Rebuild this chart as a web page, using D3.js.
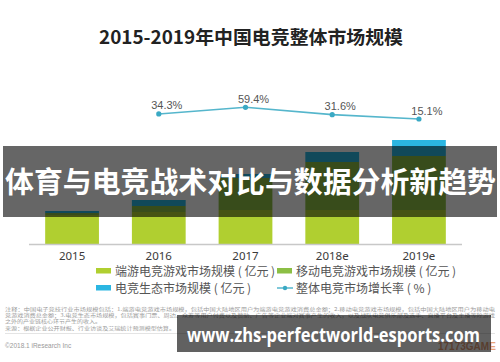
<!DOCTYPE html>
<html>
<head>
<meta charset="utf-8">
<script src="https://cdn.jsdelivr.net/npm/d3@7"></script>
<style>
  html, body { margin: 0; padding: 0; background: #fff; }
  svg { display: block; font-family: "Noto Sans CJK SC", "Noto Sans", sans-serif; }
</style>
</head>
<body>
<div id="chart"></div>
<script>
const years = ["2015", "2016", "2017", "2018e", "2019e"];
const pcGame = [290, 320, 340, 340, 340];     // 端游电竞游戏市场规模（亿元）
const mobileGame = [20, 60, 320, 480, 540];   // 移动电竞游戏市场规模（亿元）
const ecosystem = [20, 60, 40, 100, 160];     // 电竞生态市场规模（亿元）
const growthYears = ["2016", "2017", "2018e", "2019e"];
const growth = [34.3, 59.4, 31.6, 15.1];      // 整体电竞市场增长率（%）

const colors = {
  pc: "#b0cf30",
  mobile: "#8cbf45",
  eco: "#2bb6e2",
  line: "#55b6cc",
};

const width = 500;
const height = 362;

const svg = d3.select("#chart")
  .append("svg")
  .attr("width", width)
  .attr("height", height);

// title
svg.append("text")
  .attr("x", 99)
  .attr("y", 44)
  .attr("textLength", 304)
  .attr("lengthAdjust", "spacingAndGlyphs")
  .attr("font-size", 18.5)
  .attr("font-weight", "bold")
  .attr("fill", "#222")
  .text("2015-2019年中国电竞整体市场规模");

const x = d3.scaleBand()
  .domain(years)
  .range([28.7, 462.3])
  .paddingInner(0.38)
  .paddingOuter(0.19);

const y = d3.scaleLinear().domain([0, 1000]).range([244, 144]);
const yRate = d3.scaleLinear().domain([0, 100]).range([123, 96.6]);

const rows = years.map((yr, i) => ({
  year: yr,
  pc: pcGame[i],
  mobile: mobileGame[i],
  eco: ecosystem[i],
}));

const series = d3.stack().keys(["pc", "mobile", "eco"])(rows);

svg.append("g")
  .selectAll("g")
  .data(series)
  .join("g")
  .attr("fill", (d) => colors[d.key])
  .selectAll("rect")
  .data((d) => d)
  .join("rect")
  .attr("x", (d) => x(d.data.year))
  .attr("width", x.bandwidth())
  .attr("y", (d) => y(d[1]))
  .attr("height", (d) => y(d[0]) - y(d[1]));

// baseline
svg.append("line")
  .attr("x1", 29)
  .attr("x2", 462)
  .attr("y1", y(0) + 0.5)
  .attr("y2", y(0) + 0.5)
  .attr("stroke", "#c8c8c8")
  .attr("stroke-width", 1.5);

// year labels
const xAxis = svg.append("g")
  .attr("transform", `translate(0,${y(0) + 2})`)
  .call(d3.axisBottom(x).tickSize(0).tickPadding(6));
xAxis.select(".domain").remove();
xAxis.selectAll("text")
  .attr("font-size", 11.5)
  .attr("fill", "#3a3a3a")
  .attr("font-family", "'Noto Sans', sans-serif");

// growth line
const cx = (yr) => x(yr) + x.bandwidth() / 2;
const growthPts = growthYears.map((yr, i) => ({ year: yr, v: growth[i] }));

svg.append("path")
  .datum(growthPts)
  .attr("fill", "none")
  .attr("stroke", colors.line)
  .attr("stroke-width", 1.6)
  .attr("d", d3.line().x((d) => cx(d.year)).y((d) => yRate(d.v)));

svg.append("g")
  .selectAll("circle")
  .data(growthPts)
  .join("circle")
  .attr("cx", (d) => cx(d.year))
  .attr("cy", (d) => yRate(d.v))
  .attr("r", 2.6)
  .attr("fill", "#3aa9c4");

svg.append("g")
  .selectAll("text")
  .data(growthPts)
  .join("text")
  .attr("x", (d) => cx(d.year) + 8)
  .attr("y", (d) => yRate(d.v) - 4.5)
  .attr("text-anchor", "middle")
  .attr("font-size", 11)
  .attr("fill", "#555")
  .attr("font-family", "'Liberation Sans', sans-serif")
  .text((d) => `${d.v.toFixed(1)}%`);

// legend
const legendItems = [
  { label: "端游电竞游戏市场规模 ( 亿元 )", color: colors.pc, x: 96, y: 268, type: "rect" },
  { label: "移动电竞游戏市场规模 ( 亿元 )", color: colors.mobile, x: 277, y: 268, type: "rect" },
  { label: "电竞生态市场规模 ( 亿元 )", color: colors.eco, x: 96, y: 285, type: "rect" },
  { label: "整体电竞市场增长率 ( % )", color: colors.line, x: 277, y: 285, type: "line" },
];

const legend = svg.append("g")
  .selectAll("g")
  .data(legendItems)
  .join("g")
  .attr("transform", (d) => `translate(${d.x},${d.y})`);

legend.filter((d) => d.type === "rect")
  .append("rect")
  .attr("width", 15)
  .attr("height", 5.5)
  .attr("fill", (d) => d.color);

legend.filter((d) => d.type === "line")
  .append("line")
  .attr("x1", 0)
  .attr("x2", 16)
  .attr("y1", 3)
  .attr("y2", 3)
  .attr("stroke", (d) => d.color)
  .attr("stroke-width", 1.5);

legend.filter((d) => d.type === "line")
  .append("circle")
  .attr("cx", 8)
  .attr("cy", 3)
  .attr("r", 2.2)
  .attr("fill", "#3aa9c4");

legend.append("text")
  .attr("x", 19)
  .attr("y", 7.5)
  .attr("font-size", 12)
  .attr("fill", "#555")
  .text((d) => d.label);

// footnotes
const notes = [
  { t: "注释：中国电子竞技行业市场规模包括：1.端游电竞游戏市场规模，包括中国大陆地区用户为端游电竞游戏消费总金额；2.移动电竞游戏市场规模，包括中国大陆地区用户为移动电", y: 311, w: 490 },
  { t: "竞游戏消费总金额；3.电竞生态市场规模，包括赛事门票、周边、众筹等用户付费以及赞助、广告等企业端对赛事产生的收入，以及战队电竞俱乐部及选手、直播平台及主播等除游戏", y: 317, w: 490 },
  { t: "之外的产业链核心环节产生的收入。", y: 323, w: 96 },
  { t: "来源：根据企业公开财报、行业访谈及艾瑞统计预测模型估算。", y: 330, w: 170 },
];

svg.append("g")
  .selectAll("text")
  .data(notes)
  .join("text")
  .attr("x", 5)
  .attr("y", (d) => d.y)
  .attr("textLength", (d) => d.w)
  .attr("lengthAdjust", "spacingAndGlyphs")
  .attr("font-size", 5)
  .attr("fill", "#9a9a9a")
  .text((d) => d.t);

svg.append("line")
  .attr("x1", 5)
  .attr("x2", 495)
  .attr("y1", 333.5)
  .attr("y2", 333.5)
  .attr("stroke", "#ddd")
  .attr("stroke-width", 0.8);

svg.append("text")
  .attr("x", 5)
  .attr("y", 348)
  .attr("font-size", 6.5)
  .attr("fill", "#999")
  .attr("font-family", "'Liberation Sans', sans-serif")
  .text("©2018.1 iResearch Inc");

svg.append("text")
  .attr("x", 438)
  .attr("y", 350)
  .attr("font-size", 10)
  .attr("font-weight", "bold")
  .attr("fill", "#e8a27a")
  .attr("font-family", "'Liberation Sans', sans-serif")
  .text("17173GAME");

// overlay banners
svg.append("rect")
  .attr("x", 3)
  .attr("y", 146)
  .attr("width", 494)
  .attr("height", 71)
  .attr("fill", "rgba(0,0,0,0.6)");

svg.append("text")
  .attr("x", 5)
  .attr("y", 193)
  .attr("textLength", 491)
  .attr("lengthAdjust", "spacingAndGlyphs")
  .attr("font-size", 29)
  .attr("font-weight", "bold")
  .attr("fill", "#fff")
  .text("体育与电竞战术对比与数据分析新趋势");

svg.append("rect")
  .attr("x", 177)
  .attr("y", 315)
  .attr("width", 314)
  .attr("height", 37)
  .attr("fill", "rgba(0,0,0,0.62)");

svg.append("text")
  .attr("x", 187)
  .attr("y", 342)
  .attr("textLength", 293)
  .attr("lengthAdjust", "spacingAndGlyphs")
  .attr("font-size", 19)
  .attr("font-weight", "bold")
  .attr("fill", "#fff")
  .attr("font-family", "'Open Sans', 'Noto Sans', sans-serif")
  .text("www.zhs-perfectworld-esports.com");
</script>
</body>
</html>
